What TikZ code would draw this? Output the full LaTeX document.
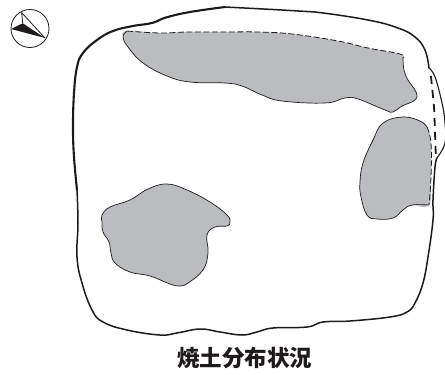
\documentclass[tikz,border=0pt]{standalone}
\usepackage{fontspec}
\newfontfamily\cjk{Noto Sans CJK JP}
\definecolor{burn}{HTML}{BBBCBF}
\definecolor{ink}{HTML}{1E1A1B}
\tikzset{
  wall/.style={draw=ink,line width=1.5pt,line cap=round,line join=round},
  wallthick/.style={draw=ink,line width=2.1pt,line cap=round,line join=round},
  wallthin/.style={draw=ink,line width=1.1pt,line cap=round,line join=round},
  walldash/.style={draw=ink,line width=1.8pt,dash pattern=on 8pt off 6pt},
  patch/.style={fill=burn,draw=none},
  edge/.style={draw=ink,line width=0.7pt,line join=round},
  edgedash/.style={draw=ink,line width=0.8pt,dash pattern=on 6pt off 2.5pt},
  sm/.style={smooth,tension=0.7},
}
\begin{document}
\begin{tikzpicture}[x=1pt,y=-1pt]
\useasboundingbox (0,0) rectangle (445,375);
% patches: fill
\fill[patch] plot[smooth cycle,tension=0.7] coordinates {(123,37) (127,31) (160,33) (187,32) (225,32) (258,32) (292,34) (338,41) (368,48) (400,54) (403,58) (404,70) (408,80) (416,92) (415,100) (402,106) (393,112) (385,110) (358,99) (345,98) (325,103) (282,101) (262,95) (242,86) (225,83) (190,82) (167,76) (143,63) (128,47)};
\fill[patch] plot[smooth cycle,tension=0.7] coordinates {(383,123) (403,117) (420,121) (427,127) (431,143) (431,177) (429,205) (412,205) (403,210) (393,218) (377,219) (367,215) (361,197) (360,182) (363,163) (373,140)};
\fill[patch] plot[smooth cycle,tension=0.7] coordinates {(102,215) (110,207) (130,200) (148,189) (167,184) (187,190) (210,202) (227,215) (230,222) (227,226) (215,227) (207,235) (208,253) (203,270) (188,283) (180,286) (170,284) (150,276) (130,272) (115,263) (111,253) (109,242) (103,232) (102,222)};
% patches: edges
\draw[edgedash] plot[sm] coordinates {(127,31) (160,33) (187,32) (225,32) (258,32) (292,34) (338,41) (368,48) (400,54) (403,58)};
\draw[edge] plot[sm] coordinates {(403,58) (404,70) (408,80) (416,92) (415,100) (402,106) (393,112) (385,110) (358,99) (345,98) (325,103) (282,101) (262,95) (242,86) (225,83) (190,82) (167,76) (143,63) (128,47) (123,37) (127,31)};
\draw[edge] plot[sm] coordinates {(427,127) (420,121) (403,117) (383,123) (373,140) (363,163) (360,182) (361,197) (367,215) (377,219) (393,218) (403,210) (412,205) (429,205)};
\draw[edgedash] plot[sm] coordinates {(427,127) (431,143) (431,177) (429,205)};
\draw[edge] plot[smooth cycle,tension=0.7] coordinates {(102,215) (110,207) (130,200) (148,189) (167,184) (187,190) (210,202) (227,215) (230,222) (227,226) (215,227) (207,235) (208,253) (203,270) (188,283) (180,286) (170,284) (150,276) (130,272) (115,263) (111,253) (109,242) (103,232) (102,222)};
% outer outline
\draw[wallthick] plot[sm] coordinates {(225,7) (190,12) (166,17.5) (152,23) (133,26) (113,31) (97,40) (83,53) (77,67) (74,93) (73,127) (74,157) (77,190)};
\draw[wall] plot[sm] coordinates {(77,190) (78,223) (77,257) (82,283) (92,310) (103,322) (127,330) (160,335) (177,333) (200,329) (220,332) (242,335) (257,332) (273,328) (307,327) (323,322) (350,321) (390,317) (407,312) (415,303) (423,283) (428,257) (433,220) (433,200) (435,167) (437,158)};
\draw[wall] plot[sm] coordinates {(225,7) (282,10) (315,12) (368,20) (398,28) (415,37) (425,50) (429,68)};
\draw[wallthin] plot[sm] coordinates {(429,68) (435,77) (442,103) (445,123) (445,143) (437,158)};
\draw[walldash] plot[sm] coordinates {(431,76) (432,87) (434,107) (435,133) (436,160)};
% orientation mark
\draw[line width=0.8pt,draw=ink] (30,28.5) circle (19);
\coordinate (ntop) at (21.7,12.7);
\coordinate (nright) at (45,38);
\coordinate (nleft) at (11,29);
\coordinate (nmid) at (22.7,23.3);
\fill[ink] (nleft) -- (nmid) -- (nright) -- cycle;
\draw[line width=0.8pt,draw=ink] (nmid) -- (ntop) -- (nright);
% caption
\node[font=\cjk\bfseries\fontsize{22.5}{24}\selectfont,text=ink,inner sep=0pt] (caption) at (244.5,358) {焼土分布状況};
\end{tikzpicture}
\end{document}
